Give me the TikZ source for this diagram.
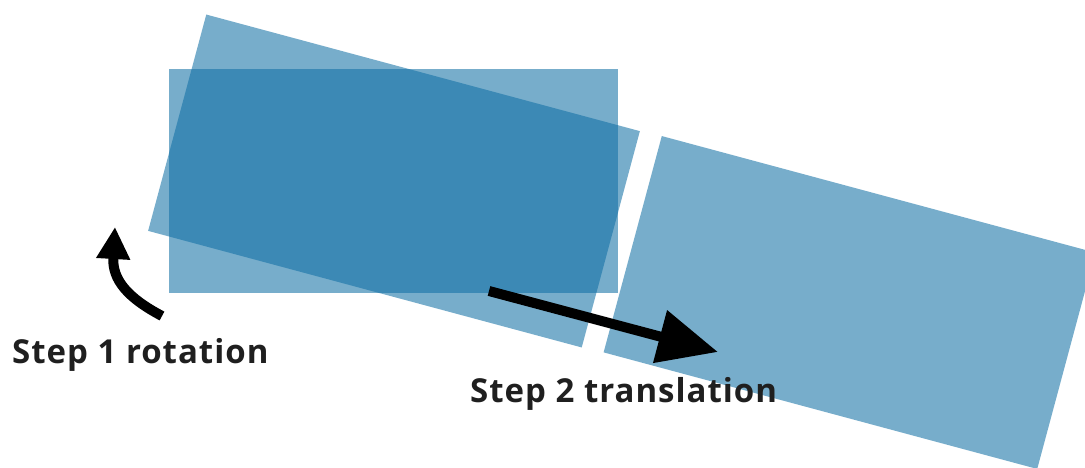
\documentclass[tikz,border=0pt]{standalone}
\usepackage{fontspec}
\setmainfont{Open Sans}[LetterSpace=3]
\usetikzlibrary{arrows.meta}
\definecolor{boxblue}{RGB}{14,110,164}
\tikzset{
  panel/.style={fill=boxblue, fill opacity=0.56, draw=none, inner sep=0pt,
    minimum width=449pt, minimum height=224pt, rectangle},
  lbl/.style={font=\fontsize{33}{36}\selectfont\bfseries, text=black!88, inner sep=0pt, anchor=base west},
  bigarrow/.style={line width=10pt, draw=black, -{Triangle[length=60pt,width=52pt]}},
  curvearrow/.style={line width=10pt, draw=black, -{Triangle[length=32pt,width=32pt]}}
}
\begin{document}
\begin{tikzpicture}[x=1pt,y=-1pt]
\useasboundingbox (0,0) rectangle (1085,468);
\clip (0,0) rectangle (1085,468);
\fill[white] (0,0) rectangle (1085,468);
\node[panel] (orig) at (393.5,181) {};
\node[panel, rotate=-15.05] (rot) at (394,181) {};
\node[panel, rotate=-15.05] (moved) at (849.5,302.5) {};
\coordinate (t1) at (489,291);
\coordinate (t2) at (718,352);
\draw[bigarrow] (t1) -- (t2);
\coordinate (c1) at (162,316);
\coordinate (c2) at (115,227);
\draw[curvearrow] (c1) .. controls (128,298) and (112,280) .. (c2);
\node[lbl] (s1) at (12,363) {Step 1 rotation};
\node[lbl] (s2) at (470,402) {Step 2 translation};
\end{tikzpicture}
\end{document}
